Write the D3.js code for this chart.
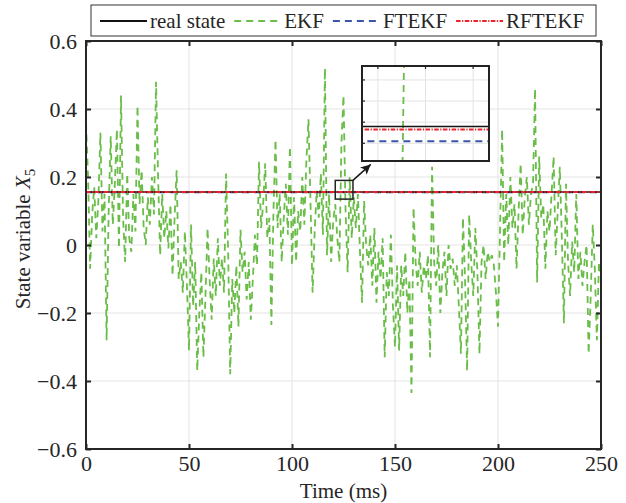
<!DOCTYPE html>
<meta charset="utf-8">
<style>
  body { margin: 0; background: #fff; }
  text { font-family: "Liberation Serif", "Times New Roman", serif; fill: #262626; }
</style>
<body>
<script src="https://d3js.org/d3.v7.min.js"></script>
<script>
// EKF estimate, one sample per ms (0..250)
var ekf = [
  0.36, 0.20, -0.07, 0.09, 0.17, 0.02, 0.13, 0.33, 0.04, 0.15, -0.28,
  0.10, 0.32, 0.06, 0.18, 0.34, -0.01, 0.44, 0.08, -0.05, 0.21,
  0.02, -0.02, 0.15, 0.04, 0.41, 0.12, 0.22, 0.05, 0.00, 0.14,
  0.06, 0.20, 0.09, 0.48, 0.20, -0.03, 0.15, 0.02, 0.10, -0.01,
  0.12, -0.09, 0.08, 0.22, -0.10, -0.05, -0.14, 0.04, -0.12, -0.31,
  0.06, -0.18, -0.05, -0.37, -0.20, -0.08, -0.33, -0.15, 0.05, -0.10,
  -0.22, -0.04, -0.15, 0.02, -0.12, -0.04, -0.14, 0.21, -0.02, -0.38,
  -0.10, -0.20, -0.06, -0.24, 0.045, -0.08, -0.02, -0.16, -0.05, -0.22,
  -0.10, 0.03, -0.06, 0.245, 0.05, 0.12, 0.24, 0.02, 0.08, -0.235,
  0.10, 0.31, 0.05, 0.15, -0.05, 0.08, 0.18, 0.03, 0.29, -0.06,
  0.14, -0.05, 0.10, 0.04, 0.20, 0.06, 0.25, 0.37, 0.12, -0.14,
  0.04, 0.16, 0.08, 0.21, 0.03, 0.52, -0.03, 0.15, -0.05, 0.07,
  0.12, 0.02, -0.05, 0.30, 0.44, 0.10, -0.08, 0.20, 0.02, 0.14,
  0.05, 0.15, -0.02, -0.17, 0.13, 0.00, -0.06, 0.03, -0.12, 0.05,
  -0.17, -0.02, -0.10, 0.02, -0.33, -0.08, -0.15, 0.03, -0.18, -0.30,
  -0.06, -0.31, -0.06, -0.15, -0.02, -0.20, -0.10, -0.435, 0.11, -0.05,
  -0.12, -0.02, -0.14, -0.06, -0.10, -0.03, -0.33, 0.23, -0.05, -0.12,
  0.00, -0.20, -0.08, -0.02, -0.15, 0.00, -0.07, -0.04, -0.12, -0.06,
  -0.18, -0.32, 0.08, -0.10, -0.37, 0.09, -0.05, -0.15, 0.05, -0.08,
  -0.32, -0.05, 0.00, -0.10, -0.02, -0.05, -0.03, -0.06, -0.14, -0.24,
  0.05, 0.34, -0.05, 0.15, 0.00, 0.20, 0.05, 0.12, -0.07, 0.10,
  0.24, 0.03, 0.14, 0.20, 0.06, 0.15, 0.18, 0.46, -0.11, 0.26,
  0.08, 0.12, -0.07, 0.10, 0.04, 0.15, 0.26, -0.03, 0.10, 0.23,
  0.02, -0.23, 0.18, -0.05, -0.15, 0.01, -0.08, 0.15, -0.10, -0.02,
  -0.12, -0.05, 0.00, -0.32, -0.15, 0.06, -0.07, -0.28, -0.05, -0.09
];
var ekfTimes = d3.range(ekf.length);

// the other three estimates are flat at this scale
var flatTimes = [0, 250];
var realState = [0.1558, 0.1558];
var ftekf = [0.1551, 0.1551];
var rftekf = [0.1556, 0.1557];

var xTicks = [0, 50, 100, 150, 200, 250];
var yTicks = [-0.6, -0.4, -0.2, 0, 0.2, 0.4, 0.6];

// zoomed region
var zoomBoxT = [121, 129.6];
var zoomBoxV = [0.135, 0.19];
var arrowTip = [138.2, 0.237];
var insetDomainT = [123.2, 124.4];
var insetDomainV = [0.15416, 0.15866];
var insetTicksT = [123.35, 123.8, 124.25];
var insetTicksV = [0.155, 0.156, 0.157, 0.158];

var legendNames = ["real state", "EKF", "FTEKF", "RFTEKF"];

var W = 626, H = 503;
var pL = 86, pR = 601, pT = 41, pB = 449;

var x = d3.scaleLinear().domain([0, 250]).range([pL, pR]);
var y = d3.scaleLinear().domain([-0.6, 0.6]).range([pB, pT]);

var styles = [
  { color: "#111", dash: null, width: 2 },
  { color: "#6abd48", dash: "7,5", width: 1.8 },
  { color: "#3a56a8", dash: "7,5", width: 2 },
  { color: "#ec2229", dash: "4.5,1.5,1.2,1.5", width: 2 }
];

var svg = d3.select("body").append("svg")
  .attr("width", W)
  .attr("height", H);

svg.append("rect").attr("width", W).attr("height", H).attr("fill", "#fff");

// grid
var grid = svg.append("g").attr("stroke", "#e3e3e3").attr("stroke-width", 1);
grid.selectAll(".gx").data(xTicks.slice(1, -1)).enter().append("line")
  .attr("x1", d => x(d)).attr("x2", d => x(d))
  .attr("y1", pT).attr("y2", pB);
grid.selectAll(".gy").data(yTicks.slice(1, -1)).enter().append("line")
  .attr("y1", d => y(d)).attr("y2", d => y(d))
  .attr("x1", pL).attr("x2", pR);

svg.append("clipPath").attr("id", "plotclip")
  .append("rect").attr("x", pL).attr("y", pT)
  .attr("width", pR - pL).attr("height", pB - pT);

function drawSeries(g, xs, ts, vs, ys, st) {
  var line = d3.line().x((d, i) => xs(ts[i])).y(d => ys(d));
  g.append("path")
    .datum(vs)
    .attr("d", line)
    .attr("fill", "none")
    .attr("stroke", st.color)
    .attr("stroke-width", st.width)
    .attr("stroke-dasharray", st.dash);
}

var plot = svg.append("g").attr("clip-path", "url(#plotclip)");
drawSeries(plot, x, ekfTimes, ekf, y, styles[1]);
drawSeries(plot, x, flatTimes, ftekf, y, styles[2]);
drawSeries(plot, x, flatTimes, realState, y, { color: "#111", dash: null, width: 1.6 });
drawSeries(plot, x, flatTimes, rftekf, y, styles[3]);

// axes
var fmtY = d => d === 0 ? "0" : d3.format(".1f")(d);

svg.append("g")
  .attr("transform", "translate(0," + pB + ")")
  .call(d3.axisBottom(x).tickValues(xTicks).tickSizeInner(-5).tickSizeOuter(0).tickPadding(6));
svg.append("g")
  .attr("transform", "translate(0," + pT + ")")
  .call(d3.axisTop(x).tickValues(xTicks).tickSizeInner(-5).tickSizeOuter(0).tickFormat(""));
svg.append("g")
  .attr("transform", "translate(" + pL + ",0)")
  .call(d3.axisLeft(y).tickValues(yTicks).tickSizeInner(-5).tickSizeOuter(0).tickPadding(9).tickFormat(fmtY));
svg.append("g")
  .attr("transform", "translate(" + pR + ",0)")
  .call(d3.axisRight(y).tickValues(yTicks).tickSizeInner(-5).tickSizeOuter(0).tickFormat(""));

svg.selectAll(".tick line").attr("stroke", "#262626").attr("stroke-width", 2);
svg.selectAll(".domain").remove();
svg.selectAll(".tick text")
  .attr("font-size", 22)
  .attr("font-family", "Liberation Serif")
  .attr("fill", "#262626");

svg.append("rect")
  .attr("x", pL).attr("y", pT)
  .attr("width", pR - pL).attr("height", pB - pT)
  .attr("fill", "none").attr("stroke", "#262626").attr("stroke-width", 2);

// axis titles
svg.append("text")
  .attr("x", (pL + pR) / 2).attr("y", 498)
  .attr("text-anchor", "middle").attr("font-size", 21)
  .text("Time (ms)");

var ylab = svg.append("text")
  .attr("transform", "translate(30," + 239 + ") rotate(-90)")
  .attr("text-anchor", "middle").attr("font-size", 21);
ylab.append("tspan").text("State variable ");
ylab.append("tspan").attr("font-style", "italic").text("X");
ylab.append("tspan").attr("font-size", 15).attr("dy", 5).text("5");

// zoom box + arrow
svg.append("rect")
  .attr("x", x(zoomBoxT[0])).attr("y", y(zoomBoxV[1]))
  .attr("width", x(zoomBoxT[1]) - x(zoomBoxT[0]))
  .attr("height", y(zoomBoxV[0]) - y(zoomBoxV[1]))
  .attr("fill", "none").attr("stroke", "#222").attr("stroke-width", 1.5);

svg.append("defs").append("marker")
  .attr("id", "ahead")
  .attr("viewBox", "0 0 10 10")
  .attr("refX", 10).attr("refY", 5)
  .attr("markerWidth", 12).attr("markerHeight", 10)
  .attr("markerUnits", "userSpaceOnUse")
  .attr("orient", "auto")
  .append("path").attr("d", "M0,0 L10,5 L0,10 L2.5,5 Z").attr("fill", "#1a1a1a");

svg.append("line")
  .attr("x1", x(zoomBoxT[1])).attr("y1", y(zoomBoxV[1]))
  .attr("x2", x(arrowTip[0])).attr("y2", y(arrowTip[1]))
  .attr("stroke", "#1a1a1a").attr("stroke-width", 1.5)
  .attr("marker-end", "url(#ahead)");

// inset
var ix = d3.scaleLinear().domain(insetDomainT).range([362, 489]);
var iy = d3.scaleLinear().domain(insetDomainV).range([161, 66]);

svg.append("clipPath").attr("id", "insetclip")
  .append("rect").attr("x", 362).attr("y", 66).attr("width", 127).attr("height", 95);

var inset = svg.append("g");
inset.append("rect").attr("x", 362).attr("y", 66).attr("width", 127).attr("height", 95).attr("fill", "#fff");
var ig = inset.append("g").attr("stroke", "#e3e3e3").attr("stroke-width", 1);
ig.selectAll(".ix").data(insetTicksT).enter().append("line")
  .attr("x1", d => ix(d)).attr("x2", d => ix(d)).attr("y1", 66).attr("y2", 161);
ig.selectAll(".iy").data(insetTicksV).enter().append("line")
  .attr("y1", d => iy(d)).attr("y2", d => iy(d)).attr("x1", 362).attr("x2", 489);
var it = inset.append("g").attr("stroke", "#262626").attr("stroke-width", 1.2);
it.selectAll(".tx").data(insetTicksT).enter().append("line")
  .attr("x1", d => ix(d)).attr("x2", d => ix(d)).attr("y1", 66).attr("y2", 69);
it.selectAll(".ty").data(insetTicksV).enter().append("line")
  .attr("y1", d => iy(d)).attr("y2", d => iy(d)).attr("x1", 362).attr("x2", 365);

var iplot = inset.append("g").attr("clip-path", "url(#insetclip)");
drawSeries(iplot, ix, ekfTimes, ekf, iy, styles[1]);
drawSeries(iplot, ix, flatTimes, realState, iy, { color: "#111", dash: null, width: 1.5 });
drawSeries(iplot, ix, flatTimes, ftekf, iy, styles[2]);
drawSeries(iplot, ix, flatTimes, rftekf, iy, styles[3]);
inset.append("rect").attr("x", 362).attr("y", 66).attr("width", 127).attr("height", 95)
  .attr("fill", "none").attr("stroke", "#222").attr("stroke-width", 2);

// legend
var lg = svg.append("g");
lg.append("rect").attr("x", 91).attr("y", 5).attr("width", 505).attr("height", 31)
  .attr("fill", "#fff").attr("stroke", "#333").attr("stroke-width", 1);
var cx = 100;
legendNames.forEach(function (name, i) {
  var st = styles[i];
  lg.append("line")
    .attr("x1", cx).attr("x2", cx + 47).attr("y1", 21).attr("y2", 21)
    .attr("stroke", st.color).attr("stroke-width", st.width).attr("stroke-dasharray", st.dash);
  var t = lg.append("text").attr("x", cx + 50).attr("y", 28).attr("font-size", 21).text(name);
  cx = cx + 50 + t.node().getComputedTextLength() + 9;
});
</script>
</body>
